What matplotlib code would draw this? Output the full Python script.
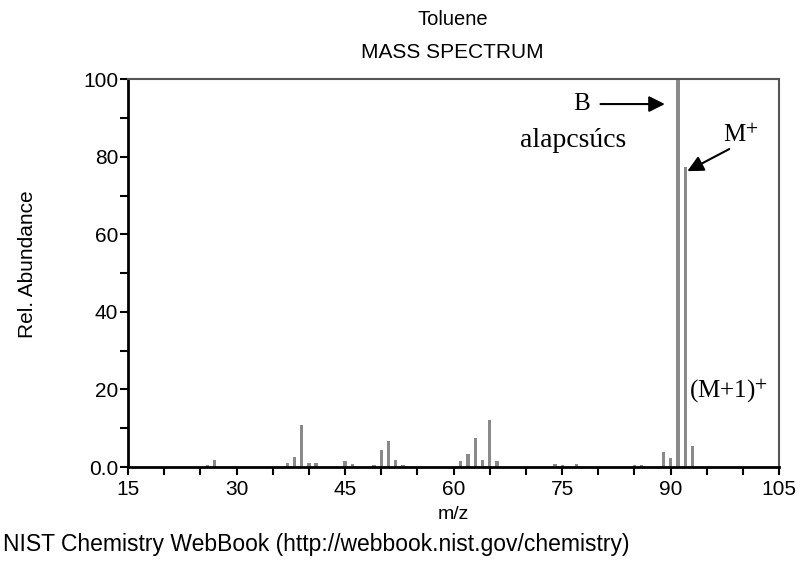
import matplotlib
matplotlib.use('Agg')
import matplotlib.pyplot as plt
from matplotlib.ticker import MultipleLocator, FuncFormatter

# toluene mass spectrum
mz = [26, 27, 37, 38, 39, 40, 41, 45, 46, 49, 50, 51, 52, 53,
      61, 62, 63, 64, 65, 66, 74, 75, 77, 85, 86, 89, 90, 91, 92, 93]
abundance = [0.4, 1.8, 1.1, 2.5, 10.8, 1.1, 1.1, 1.5, 0.9, 0.5, 4.3, 6.6, 1.8, 0.6,
             1.6, 3.3, 7.5, 1.7, 12.2, 1.5, 0.8, 0.6, 0.9, 0.4, 0.6, 4.0, 2.2, 100.0, 77.4, 5.5]

x_ticks = [15, 30, 45, 60, 75, 90, 105]
y_ticks = [0, 20, 40, 60, 80, 100]

sans = ['Liberation Sans', 'DejaVu Sans']
serif = ['Liberation Serif', 'DejaVu Serif']
plt.rcParams['font.family'] = sans
plt.rcParams['mathtext.fontset'] = 'stix'

fig = plt.figure(figsize=(8, 5.62), dpi=100)
ax = fig.add_axes([0.16, 0.169, 0.814, 0.69])

ax.bar(mz, abundance, width=0.45, color='#8a8a8a', linewidth=0)

ax.set_xlim(15, 105)
ax.set_ylim(0, 100)
ax.set_xticks(x_ticks)
ax.xaxis.set_minor_locator(MultipleLocator(5))
ax.set_yticks(y_ticks)
ax.yaxis.set_minor_locator(MultipleLocator(10))
ax.yaxis.set_major_formatter(FuncFormatter(lambda v, p: '0.0' if v == 0 else f'{v:.0f}'))

ax.tick_params(which='both', direction='out', width=1.5, color='black', labelsize=15)
ax.tick_params(axis='y', which='both', length=6, pad=1)
ax.tick_params(axis='x', which='both', length=6, pad=3)

for side in ['left', 'bottom']:
    ax.spines[side].set_linewidth(2)
    ax.spines[side].set_color('black')
for side in ['top', 'right']:
    ax.spines[side].set_linewidth(1.5)
    ax.spines[side].set_color('#555555')

ax.set_xlabel('m/z', fontsize=14)
ax.set_ylabel('Rel. Abundance', fontsize=15)
ax.xaxis.set_label_coords(0.5, -0.10)
ax.yaxis.set_label_coords(-0.14, 0.523)

fig.text(0.566, 0.966, 'Toluene', ha='center', va='center', fontsize=14.5)
fig.text(0.566, 0.907, 'MASS SPECTRUM', ha='center', va='center', fontsize=15)
fig.text(0.004, 0.031, 'NIST Chemistry WebBook (http://webbook.nist.gov/chemistry)',
         ha='left', va='center', fontsize=16.5)

# annotations
ax.text(77.7, 93.6, 'B', ha='center', va='center', fontsize=18, family=serif)
ax.text(76.5, 84.3, 'alapcsúcs', ha='center', va='center', fontsize=20, family=serif)
ax.annotate('', xy=(89.2, 93.6), xytext=(80.3, 93.6),
            arrowprops=dict(arrowstyle='-|>', color='black', lw=1.5,
                            mutation_scale=24, shrinkA=0, shrinkB=0))
ax.text(99.7, 85.5, 'M$^{+}$', ha='center', va='center', fontsize=18, family=serif)
ax.annotate('', xy=(92.3, 76.3), xytext=(98.1, 82.0),
            arrowprops=dict(arrowstyle='-|>', color='black', lw=1.5,
                            mutation_scale=24, shrinkA=0, shrinkB=0))
ax.text(92.6, 19.5, '(M+1)$^{+}$', ha='left', va='center', fontsize=18, family=serif)

fig.savefig('out.png', dpi=100, facecolor='white')
